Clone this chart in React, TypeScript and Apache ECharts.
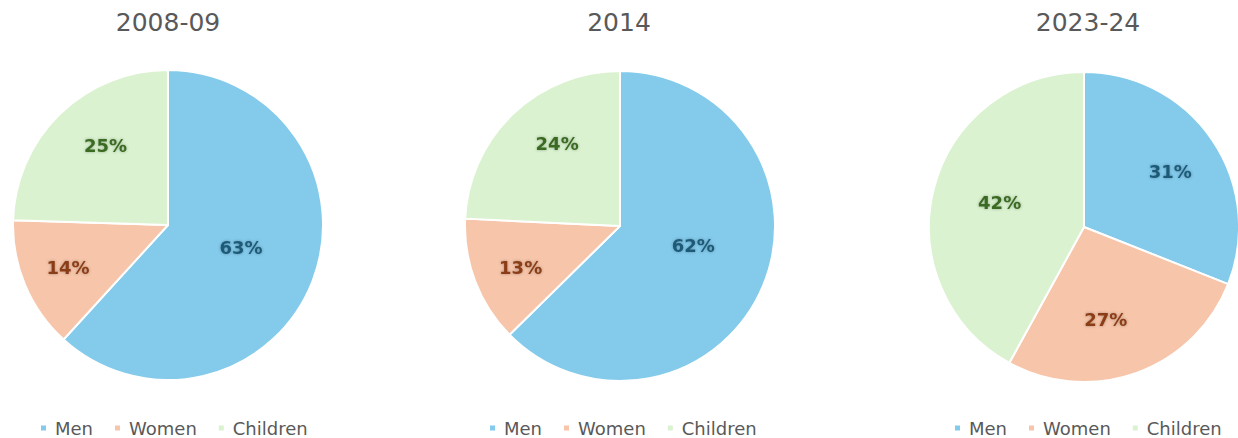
import React, { useEffect, useRef } from "react";
import * as echarts from "echarts";

const categories = ["Men", "Women", "Children"];
const periods = ["2008-09", "2014", "2023-24"];
const values2008 = [63, 14, 25];
const values2014 = [62, 13, 24];
const values2023 = [31, 27, 42];
const allValues = [values2008, values2014, values2023];

const sliceColors = ["#83CAEB", "#F6C5AA", "#DAF2D0"];
const labelColors = ["#1E5A78", "#8A3E18", "#3A6A24"];

// per-pie layout
const centers = [[168, 225], [620, 226], [1084, 227]];
const titleCenters = [168, 619, 1088];
const legendLefts = [39, 488, 953];
// which slices use the centre (half-radius) label position
const midLabel = [[true, false, false], [true, false, false], [false, false, false]];
const ringInner = [56, 56, 38];
const R = 155;
// small nudges of the labels (style only)
const labelNudge = [
  [[-2, -7], [0, 0], [13, -2]],
  [[-1, -12], [2, 3], [12, -4]],
  [[4, 0], [-12, -1], [12, 0]],
];

export default function App() {
  const ref = useRef<HTMLDivElement>(null);
  useEffect(() => {
    if (!ref.current) return;
    const chart = echarts.init(ref.current, null, { renderer: "svg" });
    const font = "DejaVu Sans";
    const labelStyle = (p: number, i: number) => {
      const [dx, dy] = labelNudge[p][i];
      return {
        color: labelColors[i],
        fontSize: 18,
        fontWeight: "bold" as const,
        fontFamily: font,
        textShadowColor: "rgba(0,0,0,0.3)",
        textShadowBlur: 3,
        formatter: "{c}%",
        offset: [0, dy],
        padding: [0, Math.max(0, -2 * dx), 0, Math.max(0, 2 * dx)],
      };
    };
    const series: any[] = [];
    allValues.forEach((vals, p) => {
      series.push({
        type: "pie",
        center: centers[p],
        radius: R,
        startAngle: 90,
        clockwise: true,
        silent: true,
        itemStyle: { borderColor: "#ffffff", borderWidth: 2 },
        labelLine: { show: false },
        data: vals.map((v, i) => ({
          name: categories[i],
          value: v,
          itemStyle: { color: sliceColors[i] },
          label: { show: midLabel[p][i], position: "inside", ...labelStyle(p, i) },
        })),
      });
    });
    allValues.forEach((vals, p) => {
      series.push({
        type: "pie",
        center: centers[p],
        radius: [ringInner[p], R],
        startAngle: 90,
        clockwise: true,
        silent: true,
        itemStyle: { color: "transparent", borderWidth: 0 },
        labelLine: { show: false },
        data: vals.map((v, i) => ({
          name: categories[i],
          value: v,
          itemStyle: { color: "transparent" },
          label: { show: !midLabel[p][i], position: "inside", ...labelStyle(p, i) },
        })),
      });
    });
    chart.setOption({
      animation: false,
      backgroundColor: "#ffffff",
      title: periods.map((t, p) => ({
        text: t,
        left: titleCenters[p],
        top: 10,
        padding: 0,
        textAlign: "center",
        textStyle: { fontFamily: font, fontSize: 25, fontWeight: "normal", color: "#595959" },
      })),
      legend: periods.map((_, p) => ({
        data: categories,
        left: legendLefts[p],
        top: 419,
        padding: 0,
        icon: "rect",
        itemWidth: 7,
        itemHeight: 7,
        itemGap: 20,
        selectedMode: false,
        textStyle: { fontFamily: font, fontSize: 18, color: "#595959", padding: [0, 0, 0, 3] },
      })),
      series,
    });
    return () => chart.dispose();
  }, []);
  return (
    <div
      ref={ref}
      style={{ position: "absolute", left: 0, top: 0, width: 1238, height: 438 }}
    />
  );
}
